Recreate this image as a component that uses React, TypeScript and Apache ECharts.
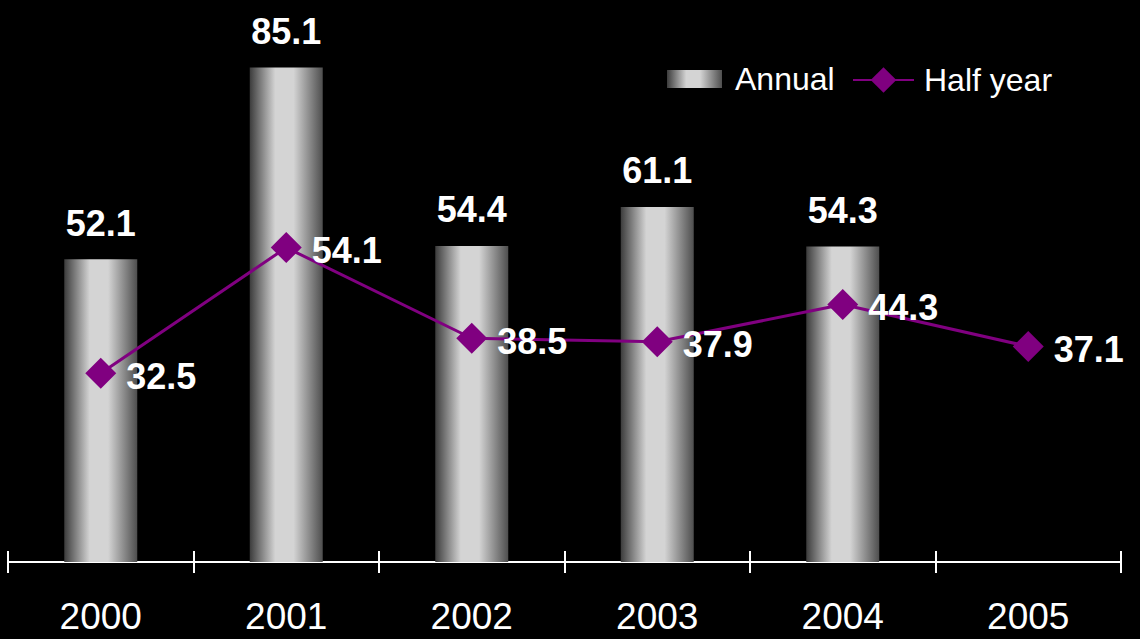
import React, { useEffect, useRef } from "react";
import * as echarts from "echarts";

const categories = ["2000", "2001", "2002", "2003", "2004", "2005"];
const annualValues: (number | null)[] = [52.1, 85.1, 54.4, 61.1, 54.3, null];
const halfYearValues = [32.5, 54.1, 38.5, 37.9, 44.3, 37.1];

const FONT = "Arial, 'Liberation Sans', Helvetica, sans-serif";

export default function App() {
  const ref = useRef<HTMLDivElement>(null);
  useEffect(() => {
    document.body.style.margin = "0";
    document.body.style.background = "#000";
    const chart = echarts.init(ref.current!, null, { renderer: "svg" });
    const barGrad = new echarts.graphic.LinearGradient(0, 0, 1, 0, [
      { offset: 0, color: "#3c3c3c" },
      { offset: 0.35, color: "#d4d4d4" },
      { offset: 0.6, color: "#d4d4d4" },
      { offset: 1, color: "#4e4e4e" },
    ]);
    const gridBox = { left: 8, right: 19, top: 39, bottom: 77 };
    chart.setOption({
      animation: false,
      backgroundColor: "#000",
      textStyle: { fontFamily: FONT },
      grid: [{ ...gridBox }, { ...gridBox }],
      legend: [
        {
          left: 662,
          top: 58,
          itemWidth: 55,
          itemHeight: 18,
          textStyle: { color: "#fff", fontSize: 32, fontFamily: FONT, padding: [0, 0, 0, 8] },
          data: [{ name: "Annual", icon: "rect", itemStyle: { color: barGrad } }],
        },
        {
          left: 847,
          top: 59,
          itemWidth: 61,
          itemHeight: 32,
          textStyle: { color: "#fff", fontSize: 32, fontFamily: FONT, padding: [0, 0, 0, 5] },
          data: [{ name: "Half year" }],
        },
      ],
      xAxis: [
        {
          type: "category",
          data: categories,
          gridIndex: 0,
          axisLine: { lineStyle: { color: "#fff", width: 2 } },
          axisTick: { show: true, length: 11, lineStyle: { color: "#fff", width: 2 } },
          axisLabel: { color: "#fff", fontSize: 37, margin: 36, fontFamily: FONT },
        },
        {
          type: "category",
          data: categories,
          gridIndex: 1,
          axisLine: { show: false },
          axisTick: { show: true, inside: true, length: 11, lineStyle: { color: "#fff", width: 2 } },
          axisLabel: { show: false },
        },
      ],
      yAxis: [
        { type: "value", min: 0, max: 90, gridIndex: 0, show: false, splitLine: { show: false } },
        { type: "value", min: 0, max: 90, gridIndex: 1, show: false, splitLine: { show: false } },
      ],
      series: [
        {
          name: "Annual",
          type: "bar",
          data: annualValues,
          barWidth: 73,
          itemStyle: { color: barGrad },
          label: {
            show: true,
            position: "top",
            distance: 18,
            color: "#fff",
            fontSize: 36,
            fontWeight: "bold",
            fontFamily: FONT,
          },
        },
        {
          name: "Half year",
          type: "line",
          data: halfYearValues,
          symbol: "diamond",
          symbolSize: 31,
          lineStyle: { color: "#800080", width: 3 },
          itemStyle: { color: "#800080" },
          label: {
            show: true,
            position: "right",
            distance: 10,
            offset: [0, 3],
            color: "#fff",
            fontSize: 36,
            fontWeight: "bold",
            fontFamily: FONT,
          },
        },
      ],
    });
    return () => chart.dispose();
  }, []);
  return (
    <div
      ref={ref}
      style={{ position: "fixed", left: 0, top: 0, width: 1140, height: 639, background: "#000" }}
    />
  );
}
